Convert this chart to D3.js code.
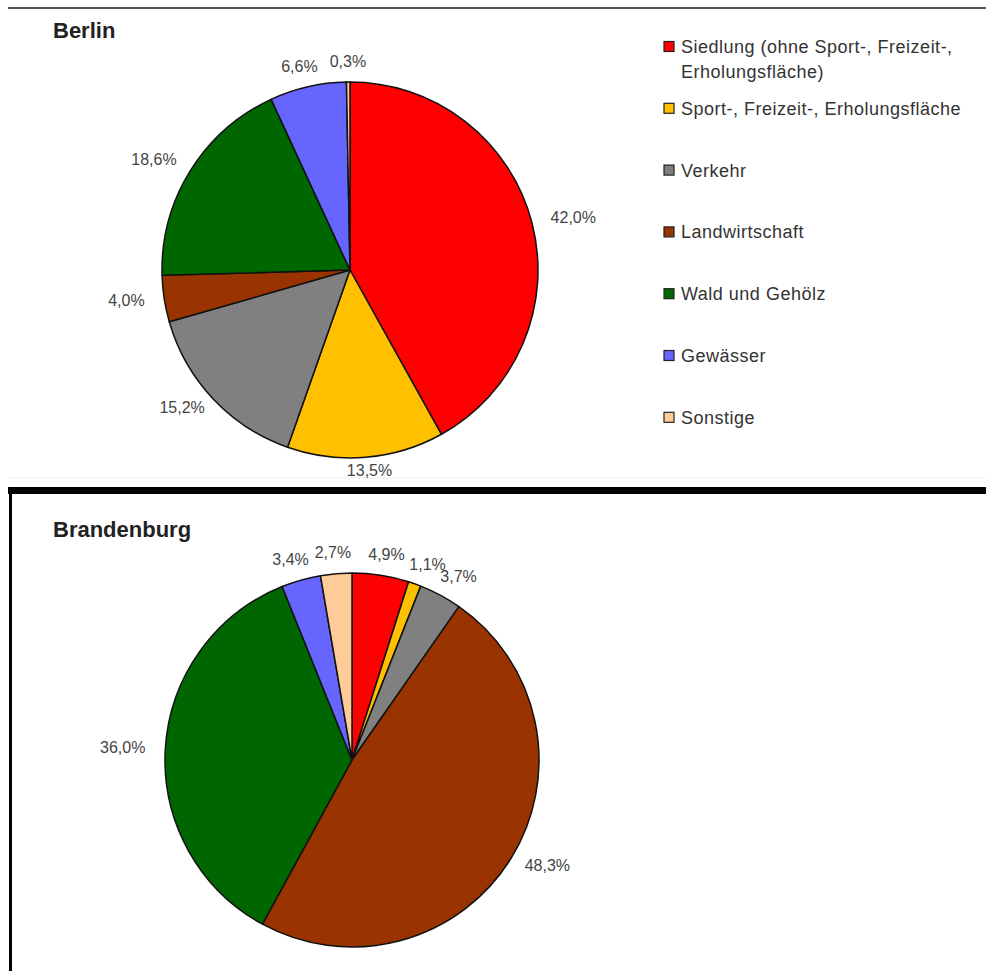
<!DOCTYPE html>
<html><head><meta charset="utf-8">
<script src="https://cdn.jsdelivr.net/npm/d3@7"></script>
<style>
html,body{margin:0;padding:0;background:#fff;}
svg{display:block;font-family:"Liberation Sans",Arial,sans-serif;}
</style></head>
<body>
<svg id="c" width="986" height="971"></svg>
<script>
const categories = ["Siedlung (ohne Sport-, Freizeit-, Erholungsfläche)", "Sport-, Freizeit-, Erholungsfläche", "Verkehr", "Landwirtschaft", "Wald und Gehölz", "Gewässer", "Sonstige"];
const legendLines = [["Siedlung (ohne Sport-, Freizeit-,", "Erholungsfläche)"], ["Sport-, Freizeit-, Erholungsfläche"], ["Verkehr"], ["Landwirtschaft"], ["Wald und Gehölz"], ["Gewässer"], ["Sonstige"]];
const colors = ["#FF0000", "#FFC000", "#808080", "#993300", "#006600", "#6666FF", "#FFCC99"];
const berlinValues = [42.0, 13.5, 15.2, 4.0, 18.6, 6.6, 0.3];
const brandenburgValues = [4.9, 1.1, 3.7, 48.3, 36.0, 3.4, 2.7];
const titles = ["Berlin", "Brandenburg"];

const svg = d3.select("#c");

// frame lines
svg.append("line").attr("x1", 8).attr("x2", 986).attr("y1", 8).attr("y2", 8).attr("stroke", "#555").attr("stroke-width", 2);
svg.append("line").attr("x1", 8).attr("x2", 986).attr("y1", 478).attr("y2", 478).attr("stroke", "#eee").attr("stroke-width", 1);
svg.append("rect").attr("x", 8).attr("y", 487).attr("width", 978).attr("height", 7).attr("fill", "#000");
svg.append("rect").attr("x", 9).attr("y", 487).attr("width", 3).attr("height", 484).attr("fill", "#000");

const fmt = v => v.toFixed(1).replace(".", ",") + "%";

function drawPie(values, cx, cy, r, title, ty) {
  svg.append("text").attr("x", 53).attr("y", ty).attr("font-size", 22).attr("font-weight", "bold").attr("fill", "#222").text(title);
  const g = svg.append("g").attr("transform", `translate(${cx},${cy})`);
  const pie = d3.pie().sort(null).value(d => d.v);
  const arcs = pie(values.map((v, i) => ({v, i})));
  const arc = d3.arc().innerRadius(0).outerRadius(r);
  g.selectAll("path").data(arcs).join("path")
    .attr("d", arc).attr("fill", d => colors[d.data.i])
    .attr("stroke", "#111").attr("stroke-width", 1.5).attr("stroke-linejoin", "round");
  const lg = g.append("g");
  arcs.forEach(d => {
    const a = (d.startAngle + d.endAngle) / 2;
    const s = Math.sin(a), c = Math.cos(a);
    const t = lg.append("text").attr("font-size", 16).attr("fill", "#444")
      .attr("text-anchor", "middle").attr("dominant-baseline", "central").text(fmt(d.data.v));
    const w = t.node().getComputedTextLength(), h = 14;
    const gy = c > 0 ? 14 : 6;
    t.attr("x", (r + 20) * s + s * w / 2).attr("y", -(r + gy) * c - c * h / 2);
  });
}

drawPie(berlinValues, 350, 270, 188, titles[0], 38);
drawPie(brandenburgValues, 352, 760, 187, titles[1], 537);

// legend
const leg = svg.append("g");
legendLines.forEach((lines, i) => {
  const y = 47 + i * 61.8;
  leg.append("rect").attr("x", 664).attr("y", y - 5.5).attr("width", 10).attr("height", 10)
    .attr("fill", colors[i]).attr("stroke", "#222").attr("stroke-width", 1.2);
  lines.forEach((ln, j) => {
    leg.append("text").attr("x", 681).attr("y", y + j * 25).attr("dominant-baseline", "central")
      .attr("font-size", 18).attr("letter-spacing", "0.5px").attr("fill", "#333").text(ln);
  });
});
</script>
</body></html>
